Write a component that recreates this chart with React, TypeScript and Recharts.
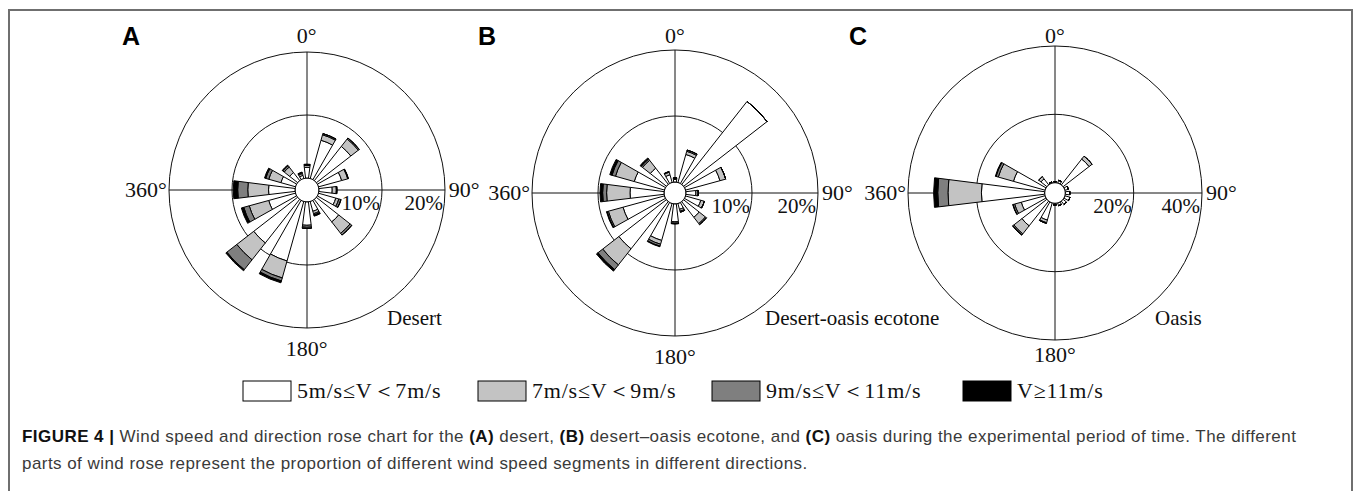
import { PolarAngleAxis, PolarGrid, PolarRadiusAxis, RadialBar, RadialBarChart } from 'recharts'

// 16 compass sectors, clockwise from north
const directions = ['N', 'NNE', 'NE', 'ENE', 'E', 'ESE', 'SE', 'SSE', 'S', 'SSW', 'SW', 'WSW', 'W', 'WNW', 'NW', 'NNW']

// (A) desert, frequency in %
const desertV5to7 = [1.7, 6.3, 6.9, 3.8, 2.1, 2.85, 4.5, 1.6, 3.7, 9.8, 8.8, 4.4, 4.2, 2.4, 1.6, 0.5]
const desertV7to9 = [0.3, 0.9, 1.5, 1.0, 0.65, 0.5, 2.3, 0.4, 0.3, 2.8, 3.4, 3.2, 3.3, 2.0, 1.1, 0.3]
const desertV9to11 = [0.1, 0.2, 0.2, 0.1, 0.1, 0.35, 0.35, 0.2, 0.2, 0.5, 2.0, 0.9, 1.6, 0.5, 0.3, 0.15]
const desertV11 = [0.1, 0, 0, 0, 0, 0, 0, 0.2, 0, 0.3, 0.2, 0.4, 0.7, 0.2, 0.1, 0.1]

// (B) desert-oasis ecotone
const ecotoneV5to7 = [0.4, 4.4, 16.0, 5.4, 1.5, 2.4, 3.0, 0.9, 2.7, 5.8, 9.1, 6.5, 5.15, 4.75, 3.1, 1.2]
const ecotoneV7to9 = [0.15, 0.5, 0, 0.9, 0.35, 0.55, 1.2, 0.3, 0.2, 0.6, 3.1, 2.3, 3.55, 2.95, 1.5, 0.4]
const ecotoneV9to11 = [0.1, 0.2, 0, 0, 0, 0, 0.2, 0.15, 0.1, 0.3, 0.9, 0.2, 0.6, 0.55, 0.25, 0.1]
const ecotoneV11 = [0, 0, 0, 0, 0, 0, 0, 0, 0, 0.1, 0.3, 0.1, 0.4, 0.35, 0.2, 0]

// (C) oasis
const oasisV5to7 = [0.3, 0.8, 9.6, 1.0, 1.3, 1.5, 1.2, 0.8, 0.5, 5.2, 9.2, 7.2, 18.5, 9.6, 2.2, 0.3]
const oasisV7to9 = [0, 0, 1.1, 0, 0, 0, 0, 0, 0, 0.8, 3.0, 2.0, 9.8, 4.6, 0.8, 0]
const oasisV9to11 = [0, 0, 0, 0, 0, 0, 0, 0, 0, 0.2, 0.4, 0.5, 3.0, 0.7, 0, 0]
const oasisV11 = [0, 0, 0, 0, 0, 0, 0, 0, 0, 0, 0.1, 0.1, 1.2, 0.2, 0, 0]

const speedBins = [
  { key: 'v5', label: '5m/s≤V＜7m/s', color: '#ffffff' },
  { key: 'v7', label: '7m/s≤V＜9m/s', color: '#c3c3c3' },
  { key: 'v9', label: '9m/s≤V＜11m/s', color: '#7f7f7f' },
  { key: 'v11', label: 'V≥11m/s', color: '#000000' },
]

const toRows = (a: number[], b: number[], c: number[], d: number[]) =>
  directions.map((dir, i) => ({ dir, v5: a[i], v7: b[i], v9: c[i], v11: d[i] }))

const SERIF = '"Liberation Serif", "Times New Roman", serif'
const SANS = '"Liberation Sans", Arial, sans-serif'
const BOX = 400

const panels = [
  { letter: 'A', letterX: 122, site: 'Desert', siteX: 387, cx: 306.7, cy: 190, inner: 12, outer: 138, max: 20, ticks: [0, 10, 20], bottomY: 356, data: toRows(desertV5to7, desertV7to9, desertV9to11, desertV11) },
  { letter: 'B', letterX: 478, site: 'Desert-oasis ecotone', siteX: 765, cx: 675, cy: 192.7, inner: 11, outer: 143, max: 20, ticks: [0, 10, 20], bottomY: 364, data: toRows(ecotoneV5to7, ecotoneV7to9, ecotoneV9to11, ecotoneV11) },
  { letter: 'C', letterX: 849, site: 'Oasis', siteX: 1155, cx: 1055, cy: 192.7, inner: 10.4, outer: 147, max: 40, ticks: [0, 20, 40], bottomY: 362, data: toRows(oasisV5to7, oasisV7to9, oasisV9to11, oasisV11) },
]

const PercentTick = ({ x, y, payload }: any) => {
  if (payload.value === 0) return <g />
  return (
    <text x={x - 2} y={y + 20} textAnchor="end" fontFamily={SERIF} fontSize={21} fill="#111">
      {payload.value}%
    </text>
  )
}

function Rose({ p }: { p: (typeof panels)[number] }) {
  return (
    <div style={{ position: 'absolute', left: p.cx - BOX / 2, top: p.cy - BOX / 2 }}>
      <RadialBarChart
        width={BOX}
        height={BOX}
        data={p.data}
        layout="centric"
        cx={BOX / 2}
        cy={BOX / 2}
        innerRadius={p.inner}
        outerRadius={p.outer}
        startAngle={78.75}
        endAngle={-281.25}
        barCategoryGap="18%"
        margin={{ top: 0, right: 0, bottom: 0, left: 0 }}
      >
        <PolarGrid gridType="circle" polarAngles={[90, 0, -90, 180]} innerRadius={0} stroke="#111" strokeOpacity={1} />
        <PolarAngleAxis type="category" dataKey="dir" tick={false} tickLine={false} axisLine={false} />
        <PolarRadiusAxis
          type="number"
          angle={0}
          domain={[0, p.max]}
          ticks={p.ticks}
          axisLine={false}
          tickLine={false}
          tick={(t: any) => <PercentTick {...t} />}
        />
        {speedBins.map((s) => (
          <RadialBar
            key={s.key}
            dataKey={s.key}
            stackId="speed"
            fill={s.color}
            stroke="#000"
            strokeWidth={1}
            isAnimationActive={false}
          />
        ))}
      </RadialBarChart>
    </div>
  )
}

export default function App() {
  return (
    <div style={{ position: 'absolute', left: 0, top: 0, width: 1356, height: 491, background: '#fff', overflow: 'hidden' }}>
      <div
        style={{
          position: 'absolute',
          left: 8,
          top: 9,
          width: 1341,
          height: 520,
          borderTop: '2px solid #6f6f6f',
          borderLeft: '2px solid #6f6f6f',
          borderRight: '2px solid #6f6f6f',
        }}
      />

      {panels.map((p) => (
        <Rose key={p.letter} p={p} />
      ))}

      <svg width={1356} height={491} style={{ position: 'absolute', left: 0, top: 0, pointerEvents: 'none' }}>
        {panels.map((p) => (
          <g key={p.letter} fontFamily={SERIF} fontSize={22} fill="#111">
            <text x={p.letterX} y={45} fontFamily={SANS} fontWeight="bold" fontSize={25} fill="#000">
              {p.letter}
            </text>
            <text x={p.cx} y={43} textAnchor="middle">0°</text>
            <text x={p.cx} y={p.bottomY} textAnchor="middle">180°</text>
            <text x={p.cx - p.outer - 2} y={p.cy + 7} textAnchor="end">360°</text>
            <text x={p.cx + p.outer + 4} y={p.cy + 7}>90°</text>
            <text x={p.siteX} y={325} fontSize={21}>{p.site}</text>
          </g>
        ))}

        {speedBins.map((s, i) => {
          const bx = [243, 478, 712, 963][i]
          return (
            <g key={s.key}>
              <rect x={bx} y={381} width={48} height={20} fill={s.color} stroke="#000" strokeWidth={1} />
              <text x={bx + 54} y={398} fontFamily={SERIF} fontSize={22} letterSpacing={0.8} fill="#111">
                {s.label}
              </text>
            </g>
          )
        })}
      </svg>

      <div
        style={{
          position: 'absolute',
          left: 22,
          top: 423,
          width: 1320,
          fontFamily: SANS,
          fontSize: 17,
          letterSpacing: 0.45,
          lineHeight: '27px',
          color: '#3a3a3a',
          whiteSpace: 'nowrap',
        }}
      >
        <b style={{ color: '#111' }}>FIGURE 4 |</b> Wind speed and direction rose chart for the <b style={{ color: '#111' }}>(A)</b> desert,{' '}
        <b style={{ color: '#111' }}>(B)</b> desert–oasis ecotone, and <b style={{ color: '#111' }}>(C)</b> oasis during the experimental period of time. The different
        <br />
        parts of wind rose represent the proportion of different wind speed segments in different directions.
      </div>
    </div>
  )
}
